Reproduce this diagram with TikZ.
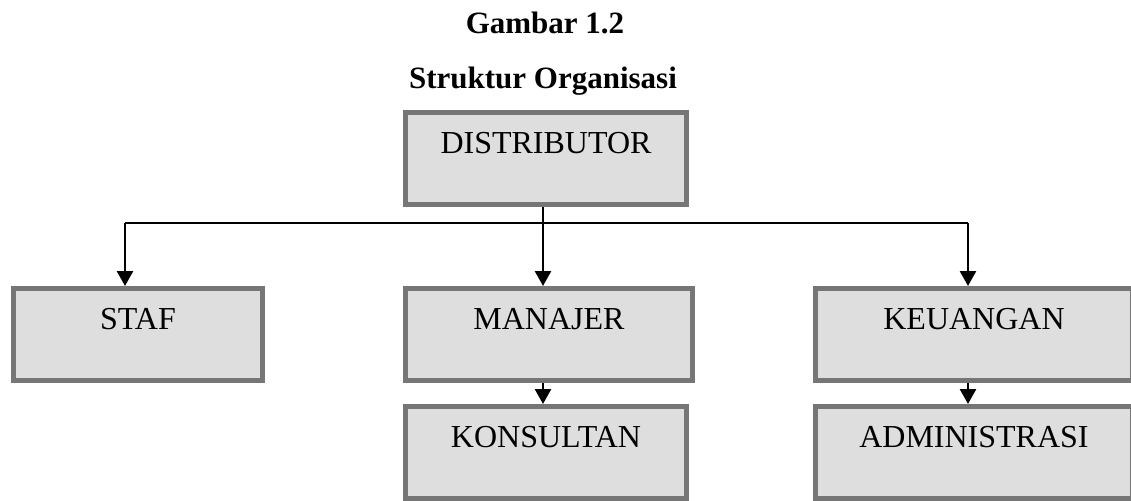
\documentclass[tikz,border=0pt]{standalone}
\usepackage{fontspec}
\setmainfont{Liberation Serif}
\usetikzlibrary{arrows.meta}

\definecolor{boxfill}{HTML}{DEDEDE}
\definecolor{boxline}{HTML}{767676}

\begin{document}
\begin{tikzpicture}[
    x=0.5pt,
    y=-0.5pt,
    unit/.style={
        rectangle,
        anchor=north west,
        draw=boxline,
        fill=boxfill,
        line width=2.5pt,
        inner sep=0pt,
        text height=20.25pt,
        text depth=25.75pt,
        font=\fontsize{16}{19}\selectfont,
        align=center
    },
    heading/.style={
        anchor=base,
        inner sep=0pt,
        font=\fontsize{15.5}{19}\selectfont\bfseries
    },
    arrow/.style={
        -{Triangle[width=8pt,length=7.5pt]},
        line width=1.3pt
    },
    link/.style={
        line width=1.1pt
    }
]

\useasboundingbox (0,0) rectangle (1131,500);

% Title
\node[heading] (title) at (545,33) {Gambar 1.2};
\node[heading] (subtitle) at (543,88) {Struktur Organisasi};

% Top unit
\node[unit, minimum width=140.5pt] (dist) at (403,110) {DISTRIBUTOR};

% Second level
\node[unit, minimum width=124.5pt] (staf) at (11,286) {STAF};
\node[unit, minimum width=143.5pt] (manajer) at (403,286) {MANAJER};
\node[unit, minimum width=158.5pt] (keuangan) at (813,286) {KEUANGAN};

% Third level
\node[unit, minimum width=140.5pt] (konsultan) at (403,404) {KONSULTAN};
\node[unit, minimum width=158.5pt] (admin) at (813,404) {ADMINISTRASI};

% Junctions
\coordinate (jl) at (125,223);
\coordinate (jm) at (543,223);
\coordinate (jr) at (968,223);

% Lines
\draw[link] (dist.south -| jm) -- (jm);
\draw[link] (jl) -- (jr);
\draw[arrow] (jl) -- (jl |- staf.north);
\draw[arrow] (jm) -- (jm |- manajer.north);
\draw[arrow] (jr) -- (jr |- keuangan.north);
\draw[arrow] (manajer.south -| jm) -- (jm |- konsultan.north);
\draw[arrow] (keuangan.south -| jr) -- (jr |- admin.north);

\end{tikzpicture}
\end{document}
